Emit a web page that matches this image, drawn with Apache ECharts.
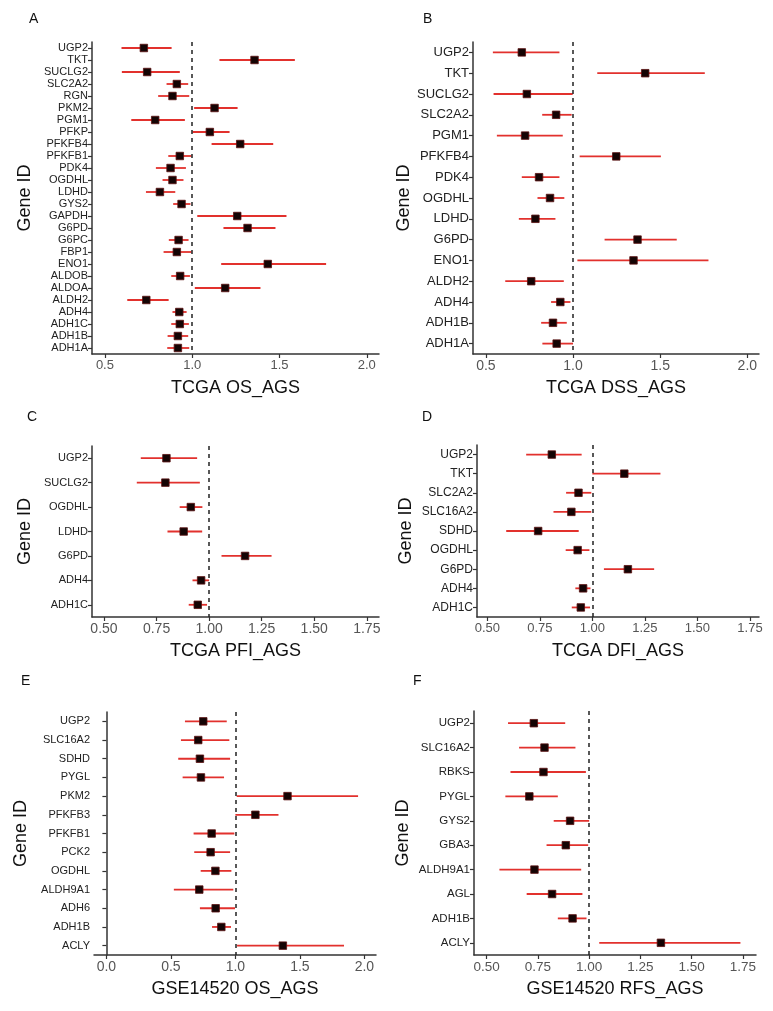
<!DOCTYPE html>
<html lang="en" style="height: 100%">

<head>
  <meta charset="utf-8">
</head>

<body style="height: 100%; margin: 0; background: #fff">
  <div id="container" style="width: 773px; height: 1011px"></div>

  <script type="text/javascript" src="https://cdn.jsdelivr.net/npm/echarts@6/dist/echarts.min.js"></script>

  <script type="text/javascript">
    // panel A: TCGA OS
    var osGenes = ['UGP2', 'TKT', 'SUCLG2', 'SLC2A2', 'RGN', 'PKM2', 'PGM1', 'PFKP', 'PFKFB4', 'PFKFB1', 'PDK4', 'OGDHL', 'LDHD', 'GYS2', 'GAPDH', 'G6PD', 'G6PC', 'FBP1', 'ENO1', 'ALDOB', 'ALDOA', 'ALDH2', 'ADH4', 'ADH1C', 'ADH1B', 'ADH1A'];
    var osHR = [0.723, 1.357, 0.742, 0.912, 0.887, 1.128, 0.788, 1.101, 1.275, 0.929, 0.876, 0.887, 0.815, 0.939, 1.258, 1.317, 0.922, 0.912, 1.433, 0.931, 1.189, 0.737, 0.926, 0.929, 0.918, 0.918];
    var osLow = [0.595, 1.156, 0.597, 0.853, 0.805, 1.011, 0.651, 1.002, 1.111, 0.863, 0.792, 0.830, 0.735, 0.891, 1.029, 1.179, 0.866, 0.836, 1.166, 0.880, 1.015, 0.628, 0.887, 0.880, 0.859, 0.857];
    var osHigh = [0.882, 1.588, 0.929, 0.977, 0.983, 1.260, 0.958, 1.214, 1.464, 0.996, 0.964, 0.950, 0.903, 0.990, 1.540, 1.477, 0.979, 0.996, 1.767, 0.987, 1.391, 0.865, 0.968, 0.981, 0.977, 0.983];

    // panel B: TCGA DSS
    var dssGenes = ['UGP2', 'TKT', 'SUCLG2', 'SLC2A2', 'PGM1', 'PFKFB4', 'PDK4', 'OGDHL', 'LDHD', 'G6PD', 'ENO1', 'ALDH2', 'ADH4', 'ADH1B', 'ADH1A'];
    var dssHR = [0.706, 1.414, 0.735, 0.903, 0.725, 1.248, 0.805, 0.868, 0.784, 1.370, 1.347, 0.760, 0.927, 0.885, 0.906];
    var dssLow = [0.540, 1.139, 0.544, 0.823, 0.563, 1.038, 0.706, 0.796, 0.689, 1.181, 1.025, 0.611, 0.874, 0.817, 0.824];
    var dssHigh = [0.922, 1.756, 0.998, 0.992, 0.941, 1.504, 0.922, 0.950, 0.899, 1.595, 1.777, 0.947, 0.985, 0.964, 1.000];

    // panel C: TCGA PFI
    var pfiGenes = ['UGP2', 'SUCLG2', 'OGDHL', 'LDHD', 'G6PD', 'ADH4', 'ADH1C'];
    var pfiHR = [0.797, 0.792, 0.913, 0.879, 1.171, 0.962, 0.946];
    var pfiLow = [0.675, 0.656, 0.860, 0.802, 1.059, 0.921, 0.903];
    var pfiHigh = [0.943, 0.956, 0.968, 0.967, 1.297, 1.000, 0.990];

    // panel D: TCGA DFI
    var dfiGenes = ['UGP2', 'TKT', 'SLC2A2', 'SLC16A2', 'SDHD', 'OGDHL', 'G6PD', 'ADH4', 'ADH1C'];
    var dfiHR = [0.807, 1.152, 0.934, 0.900, 0.742, 0.930, 1.169, 0.956, 0.945];
    var dfiLow = [0.685, 1.000, 0.875, 0.815, 0.590, 0.873, 1.055, 0.919, 0.902];
    var dfiHigh = [0.949, 1.324, 0.995, 0.995, 0.935, 0.986, 1.294, 0.991, 0.989];

    // panel E: GSE14520 OS
    var gseOsGenes = ['UGP2', 'SLC16A2', 'SDHD', 'PYGL', 'PKM2', 'PFKFB3', 'PFKFB1', 'PCK2', 'OGDHL', 'ALDH9A1', 'ADH6', 'ADH1B', 'ACLY'];
    var gseOsHR = [0.751, 0.712, 0.725, 0.733, 1.404, 1.155, 0.816, 0.808, 0.845, 0.720, 0.847, 0.891, 1.368];
    var gseOsLow = [0.609, 0.578, 0.557, 0.591, 1.010, 1.000, 0.676, 0.681, 0.731, 0.523, 0.725, 0.819, 1.013];
    var gseOsHigh = [0.933, 0.953, 0.959, 0.912, 1.951, 1.334, 0.992, 0.959, 0.969, 0.984, 0.997, 0.966, 1.842];

    // panel F: GSE14520 RFS
    var rfsGenes = ['UGP2', 'SLC16A2', 'RBKS', 'PYGL', 'GYS2', 'GBA3', 'ALDH9A1', 'AGL', 'ADH1B', 'ACLY'];
    var rfsHR = [0.730, 0.782, 0.777, 0.708, 0.907, 0.886, 0.733, 0.819, 0.919, 1.350];
    var rfsLow = [0.604, 0.658, 0.616, 0.591, 0.827, 0.792, 0.562, 0.695, 0.847, 1.049];
    var rfsHigh = [0.883, 0.933, 0.984, 0.847, 1.000, 0.995, 0.961, 0.967, 0.987, 1.738];

    var ticksWide = [0.5, 1.0, 1.5, 2.0];
    var ticksFromZero = [0.0, 0.5, 1.0, 1.5, 2.0];
    var ticksQuarter = [0.5, 0.75, 1.0, 1.25, 1.5, 1.75];

    var panels = [
      { tag: 'A', genes: osGenes, hr: osHR, lo: osLow, hi: osHigh, name: 'TCGA OS_AGS',
        grid: [92, 42, 287, 312], xmin: 0.426, xmax: 2.07, ticks: ticksWide, digits: 1, tickSize: 13, catSize: 11, nameGap: 58, label: [24, 7] },
      { tag: 'B', genes: dssGenes, hr: dssHR, lo: dssLow, hi: dssHigh, name: 'TCGA DSS_AGS',
        grid: [473, 42, 286, 312], xmin: 0.426, xmax: 2.067, ticks: ticksWide, digits: 1, tickSize: 14, catSize: 13, nameGap: 58, label: [418, 7] },
      { tag: 'C', genes: pfiGenes, hr: pfiHR, lo: pfiLow, hi: pfiHigh, name: 'TCGA PFI_AGS',
        grid: [92, 446, 287, 171], xmin: 0.443, xmax: 1.808, ticks: ticksQuarter, digits: 2, tickSize: 14, catSize: 11, nameGap: 58, label: [22, 405] },
      { tag: 'D', genes: dfiGenes, hr: dfiHR, lo: dfiLow, hi: dfiHigh, name: 'TCGA DFI_AGS',
        grid: [477, 445, 282, 172], xmin: 0.451, xmax: 1.793, ticks: ticksQuarter, digits: 2, tickSize: 13, catSize: 12, nameGap: 62, label: [417, 405] },
      { tag: 'E', genes: gseOsGenes, hr: gseOsHR, lo: gseOsLow, hi: gseOsHigh, name: 'GSE14520 OS_AGS',
        grid: [94, 712, 282, 243], xmin: -0.096, xmax: 2.09, ticks: ticksFromZero, digits: 1, tickSize: 14, catSize: 11, nameGap: 64, label: [16, 669] },
      { tag: 'F', genes: rfsGenes, hr: rfsHR, lo: rfsLow, hi: rfsHigh, name: 'GSE14520 RFS_AGS',
        grid: [474, 711, 282, 244], xmin: 0.438, xmax: 1.814, ticks: ticksQuarter, digits: 2, tickSize: 13.5, catSize: 11.5, nameGap: 62, label: [408, 669] }
    ];

    var dom = document.getElementById('container');
    var myChart = echarts.init(dom, null, { renderer: 'canvas' });

    var titles = [], grids = [], xAxes = [], yAxes = [], series = [];

    panels.forEach(function (p, i) {
      titles.push({
        text: p.tag, left: p.label[0], top: p.label[1],
        textStyle: { fontFamily: 'Liberation Sans', fontSize: 14, fontWeight: 'normal', color: '#111' }
      });
      grids.push({ left: p.grid[0], top: p.grid[1], width: p.grid[2], height: p.grid[3] });

      var digits = p.digits;
      xAxes.push({
        type: 'value', gridIndex: i, min: p.xmin, max: p.xmax,
        name: p.name, nameLocation: 'middle', nameGap: 25,
        nameTextStyle: { fontFamily: 'Liberation Sans', fontSize: 18, color: '#111' },
        axisLine: { show: true, lineStyle: { color: '#333', width: 1.5 } },
        axisTick: { show: true, length: 4, customValues: p.ticks, lineStyle: { color: '#333', width: 1.2 } },
        axisLabel: {
          customValues: p.ticks, margin: 5, fontFamily: 'Liberation Sans', fontSize: p.tickSize, color: '#555',
          formatter: function (v) { return v.toFixed(digits); }
        },
        splitLine: { show: false }
      });
      yAxes.push({
        type: 'category', gridIndex: i, data: p.genes, inverse: true,
        name: 'Gene ID', nameLocation: 'middle', nameRotate: 90, nameGap: p.nameGap,
        nameTextStyle: { fontFamily: 'Liberation Sans', fontSize: 18, color: '#111' },
        axisLine: { show: true, lineStyle: { color: '#333', width: 1.5 } },
        axisTick: { show: true, length: 4, alignWithLabel: true, lineStyle: { color: '#333', width: 1.2 } },
        axisLabel: { margin: 4, fontFamily: 'Liberation Sans', fontSize: p.catSize, color: '#222', interval: 0 },
        splitLine: { show: false }
      });

      var barData = p.genes.map(function (g, k) { return [p.lo[k], p.hi[k], k]; });
      var pointData = p.genes.map(function (g, k) { return [p.hr[k], k]; });

      series.push({
        type: 'custom', xAxisIndex: i, yAxisIndex: i, silent: true,
        data: barData,
        encode: { x: [0, 1], y: 2 },
        renderItem: function (params, api) {
          var a = api.coord([api.value(0), api.value(2)]);
          var b = api.coord([api.value(1), api.value(2)]);
          return {
            type: 'line',
            shape: { x1: a[0], y1: a[1], x2: b[0], y2: b[1] },
            style: { stroke: '#e2312d', lineWidth: 1.8 }
          };
        },
        z: 2
      });
      series.push({
        type: 'scatter', xAxisIndex: i, yAxisIndex: i, silent: true,
        data: pointData,
        symbol: 'rect', symbolSize: 7.5,
        itemStyle: { color: '#140404', borderColor: '#5a1010', borderWidth: 0.8, opacity: 1 },
        markLine: {
          silent: true, symbol: 'none', animation: false,
          label: { show: false },
          lineStyle: { color: '#222', width: 1.5, type: [4, 4] },
          data: [{ xAxis: 1 }]
        },
        z: 3
      });
    });

    var option = {
      animation: false,
      backgroundColor: '#fff',
      title: titles,
      grid: grids,
      xAxis: xAxes,
      yAxis: yAxes,
      series: series
    };

    myChart.setOption(option);
    window.addEventListener('resize', myChart.resize);
  </script>
</body>

</html>
